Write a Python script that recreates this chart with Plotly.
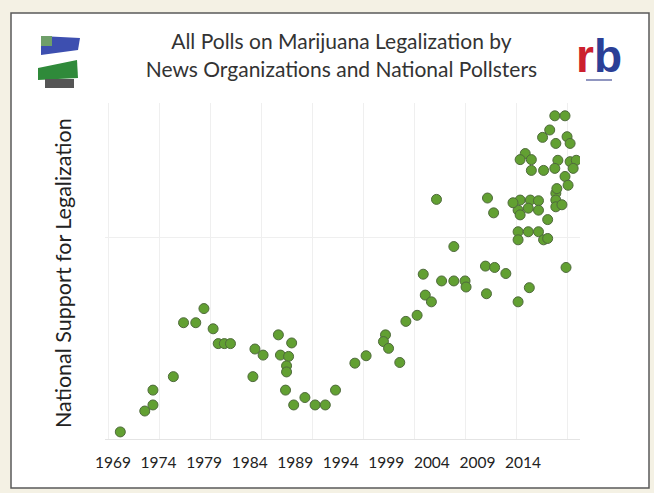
import plotly.graph_objs as go

# poll dates (year) and % support for legalization
years = [1970.2, 1972.6, 1973.4, 1973.4, 1975.4, 1976.4, 1977.6, 1978.4, 1979.3, 1979.8,
         1980.4, 1981.0, 1983.2, 1983.4, 1984.2, 1985.7, 1987.0, 1985.9, 1986.7, 1986.5,
         1986.5, 1986.4, 1987.2, 1988.3, 1989.3, 1990.3, 1991.3, 1993.2, 1994.3, 1996.2,
         1996.0, 1996.5, 1997.6, 1998.2, 1999.3, 2000.1, 2000.7, 1999.9, 2001.7, 2002.9,
         2004.0, 2004.1, 2001.2, 2002.9, 2006.0, 2006.9, 2008.0, 2006.1, 2010.3, 2009.2,
         2013.9, 2006.2, 2006.8, 2009.4, 2010.4, 2011.2, 2009.2, 2010.2, 2011.2, 2009.4,
         2012.1, 2012.9, 2012.9, 2012.9, 2013.5, 2009.2, 2010.2, 2011.2, 2009.2, 2011.7,
         2012.1, 2012.8, 2013.8, 2012.3, 2011.6, 2012.9, 2014.0, 2014.3, 2009.9, 2009.4,
         2010.5, 2010.5, 2011.7, 2013.1, 2014.3, 2014.9, 2012.8, 2014.6, 2013.8, 2014.1,
         2013.0, 2008.7]
support = [11.2, 14.3, 15.2, 17.4, 19.4, 27.4, 27.4, 29.5, 26.5, 24.3,
           24.3, 24.3, 19.4, 23.5, 22.6, 25.6, 24.4, 22.6, 22.4, 21.0,
           20.1, 17.4, 15.2, 16.3, 15.2, 15.2, 17.4, 21.4, 22.5, 25.6,
           24.6, 23.6, 21.5, 27.6, 28.5, 31.5, 30.5, 34.6, 33.6, 33.6,
           33.6, 32.7, 45.7, 38.7, 35.8, 35.6, 34.7, 31.7, 32.6, 30.5,
           35.6, 45.9, 43.7, 45.6, 45.6, 45.5, 44.1, 44.4, 44.1, 43.4,
           42.7, 46.6, 45.6, 44.6, 44.9, 40.9, 40.9, 40.9, 39.7, 39.7,
           39.9, 58.1, 58.1, 56.0, 54.9, 54.0, 55.0, 54.0, 52.5, 51.6,
           51.6, 50.0, 50.0, 51.5, 51.3, 51.5, 50.3, 50.3, 49.1, 47.8,
           47.3, 45.2]

tick_years = [1969, 1974, 1979, 1984, 1989, 1994, 1999, 2004, 2009, 2014]
tick_text = [str(t) for t in tick_years]

# plot area in pixels: x 105..580, y 103..440
def px(x):
    return (x - 105) / 475.0
def py(y):
    return (440 - y) / 337.0

pts = go.Scatter(x=years, y=support, mode="markers",
                 marker=dict(size=10, color="#62a032",
                             line=dict(color="#4f6a3c", width=1)),
                 hoverinfo="x+y")

# dummy trace for the label axis
lab = go.Scatter(x=tick_years, y=[None] * len(tick_years), xaxis="x2",
                 showlegend=False, hoverinfo="skip")

fig = go.Figure([pts, lab])

shapes = []
# white panel with border
shapes.append(dict(type="rect", xref="paper", yref="paper", layer="below",
                   x0=px(11), x1=px(649), y0=py(488), y1=py(13),
                   fillcolor="white", line=dict(color="#5a5a5a", width=1.5)))
# left logo, roughly
shapes.append(dict(type="path", xref="paper", yref="paper",
                   path="M %f %f L %f %f L %f %f L %f %f Z" % (px(41), py(36), px(80), py(38), px(78), py(50), px(41), py(55)),
                   fillcolor="#3d4fb0", line=dict(width=0)))
shapes.append(dict(type="rect", xref="paper", yref="paper",
                   x0=px(41), x1=px(52), y0=py(46), y1=py(36),
                   fillcolor="#6f9f6a", line=dict(width=0)))
shapes.append(dict(type="path", xref="paper", yref="paper",
                   path="M %f %f L %f %f L %f %f L %f %f Z" % (px(38), py(68), px(77), py(60), px(78), py(78), px(38), py(80)),
                   fillcolor="#2f8a3a", line=dict(width=0)))
shapes.append(dict(type="rect", xref="paper", yref="paper",
                   x0=px(45), x1=px(74), y0=py(88), y1=py(79),
                   fillcolor="#555555", line=dict(width=0)))
# little bar under the rb logo
shapes.append(dict(type="line", xref="paper", yref="paper",
                   x0=px(586), x1=px(612), y0=py(80), y1=py(80),
                   line=dict(color="#9096c0", width=2)))

annotations = []
annotations.append(dict(xref="paper", yref="paper", x=px(599), y=py(56),
                        xanchor="center", yanchor="middle",
                        text="<b><span style='color:#cc1f2e'>r</span><span style='color:#2b3f96'>b</span></b>",
                        showarrow=False, font=dict(size=46, family="Liberation Sans")))
annotations.append(dict(xref="paper", yref="paper", x=px(63), y=py(273),
                        xanchor="center", yanchor="middle",
                        text="National Support for Legalization", textangle=-90,
                        showarrow=False, font=dict(size=21.5, color="#222222")))

fig.update_layout(
    width=654, height=493,
    margin=dict(l=105, r=74, t=103, b=53),
    paper_bgcolor="#f4f1e4",
    plot_bgcolor="white",
    showlegend=False,
    font=dict(family="Lato", color="#222222"),
    title=dict(text="All Polls on Marijuana Legalization by<br>News Organizations and National Pollsters",
               x=0.522, xanchor="center", y=0.9, yanchor="middle",
               font=dict(size=21, color="#333333")),
    xaxis=dict(range=[1968.7, 2015.27], tickvals=tick_years, showticklabels=False,
               showgrid=True, gridcolor="#efefef", zeroline=False, ticks=""),
    xaxis2=dict(overlaying="x", side="bottom", anchor="y",
                range=[1968.12, 2020.26], tickvals=tick_years, ticktext=tick_text,
                showgrid=False, zeroline=False, ticks="outside", ticklen=8,
                tickcolor="rgba(0,0,0,0)",
                tickfont=dict(size=15.5, color="#222222")),
    yaxis=dict(range=[10, 60], tickvals=[40, 60], showticklabels=False,
               showgrid=True, gridcolor="#efefef", zeroline=False,
               showline=False),
    shapes=shapes,
    annotations=annotations,
)
fig.add_hline(y=10, line=dict(color="#e4e4e4", width=2))

fig.write_html("out.html", config={"displayModeBar": False},
               post_script="document.body.style.margin='0';")
